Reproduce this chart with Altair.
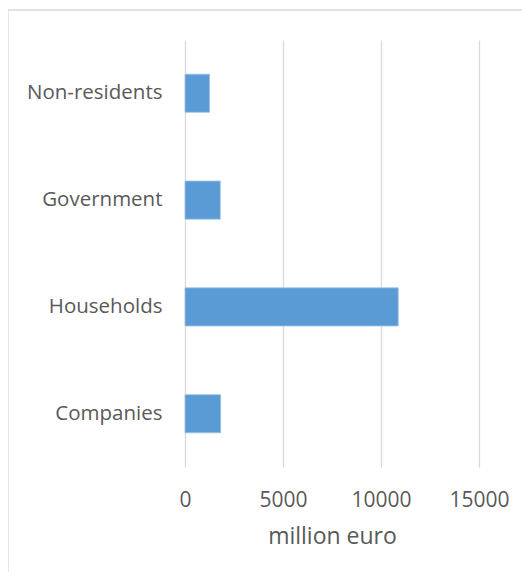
import altair as alt
import pandas as pd

categories = ["Non-residents", "Government", "Households", "Companies"]
values = [1250, 1800, 10880, 1820]
x_ticks = [0, 5000, 10000, 15000]

df = pd.DataFrame({"sector": categories, "value": values})

FONT = "Open Sans"
GREY = "#595959"

bars = alt.Chart(df).mark_bar(color="#5b9bd5", stroke="#9dc3e6", strokeWidth=0.8).encode(
    x=alt.X("value:Q",
            scale=alt.Scale(domain=[0, 15000], nice=False),
            axis=alt.Axis(values=x_ticks, format="d", title="million euro", grid=True,
                          gridColor="#d9d9d9", gridWidth=1.3, domain=False, ticks=False,
                          labelFlush=False,
                          labelFont=FONT, labelFontSize=21, labelColor=GREY,
                          labelPadding=22, titleFont=FONT, titleFontSize=23,
                          titleFontWeight="normal", titleColor=GREY, titlePadding=15)),
    y=alt.Y("sector:N", sort=categories,
            scale=alt.Scale(paddingInner=0.643, paddingOuter=0.32),
            axis=alt.Axis(title=None, domain=False, ticks=False, grid=False,
                          labelFont=FONT, labelFontSize=20.5, labelColor=GREY,
                          labelPadding=23)),
)

frame = alt.Chart(alt.Data(values=[{}])).mark_rect(
    fill=None, stroke="#d9d9d9", strokeWidth=1.3
).encode(
    x=alt.value(-177), x2=alt.value(500),
    y=alt.value(-30), y2=alt.value(700),
)

chart = alt.layer(frame, bars).properties(
    width=294, height=427,
    padding={"left": 177, "top": 32, "right": 43, "bottom": 105},
    autosize=alt.AutoSizeParams(type="none"),
    background="white",
).configure_view(stroke=None)

chart.save("out.html", embed_options={"renderer": "svg", "actions": False})
